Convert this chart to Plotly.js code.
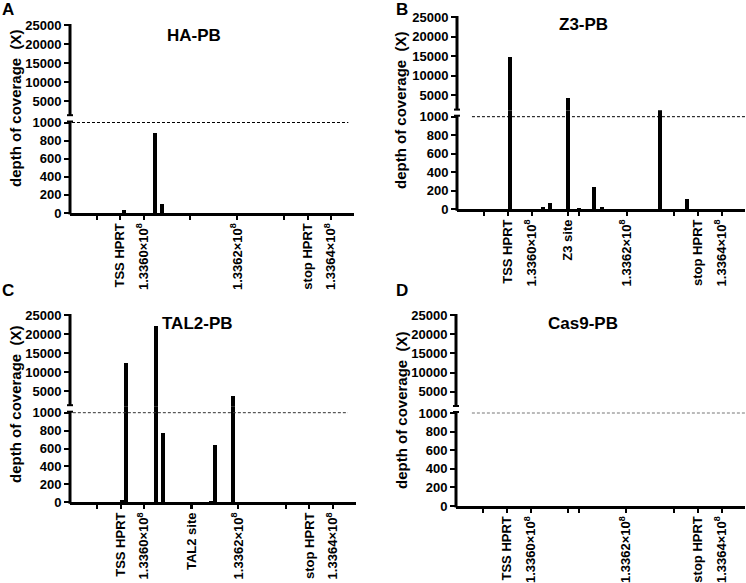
<!DOCTYPE html>
<html>
<head>
<meta charset="utf-8">
<script src="https://cdn.plot.ly/plotly-3.0.1.min.js"></script>
<style>html,body{margin:0;padding:0;background:#fff;}#chart{width:746px;height:583px;}</style>
</head>
<body>
<div id="chart"></div>
<script>
// ---- data (genomic position on chrX, depth of coverage) ----
const haPos   = [133595900, 133602350, 133603850];
const haDepth = [35, 880, 100];

const z3Pos   = [133595450, 133602380, 133603850, 133607700, 133609950, 133613100, 133614850, 133627100, 133632600];
const z3Depth = [14700, 22, 68, 4300, 15, 237, 25, 1200, 114];

const tal2Pos   = [133595400, 133596200, 133602480, 133604100, 133614200, 133615050, 133618930, 133627070];
const tal2Depth = [30, 12400, 22000, 777, 10, 640, 3700, 5];

const cas9Pos   = [];
const cas9Depth = [];

const panelNames   = ["HA-PB", "Z3-PB", "TAL2-PB", "Cas9-PB"];
const panelLetters = ["A", "B", "C", "D"];

// x ticks
const minorTicks = [133590000, 133610000, 133630000];
const majorTicks = [133600000, 133620000, 133640000];
const majorLabels = ["1.3360×10<sup>8</sup>", "1.3362×10<sup>8</sup>", "1.3364×10<sup>8</sup>"];
const tssHPRT = 133595000;
const stopHPRT = 133635000;
const z3Site = 133607700;
const tal2Site = 133610100;

// y ticks
const lowerTicks = [0, 200, 400, 600, 800, 1000];
const upperTicks = [5000, 10000, 15000, 20000, 25000];
const breakValue = 1000;
const yTitle = "depth of coverage  (X)";

// ---- layout helpers ----
const W = 746, H = 583;
const FONT = "Liberation Sans, Arial, sans-serif";
const px = v => v / W;
const py = v => 1 - v / H;
const B = t => t === "" ? "" : "<b>" + t + "</b>";

// pixel geometry of each panel: x [left,right], lower y [top,bottom], upper y [top,bottom]
const geo = [
  {x:[70,354], lo:[122.5,213], up:[25,116.2], dash:[0.007,0.98], dashColor:"#000", title:[194,36], letter:[8,9], ytitle:[15,108]},
  {x:[457,745], lo:[116.7,209.3], up:[17,110.6], dash:[0.052,1.0], dashColor:"#000", title:[583,25], letter:[402,9], ytitle:[401,110]},
  {x:[70,356], lo:[412.7,502.3], up:[315,406.2], dash:[0.01,0.972], dashColor:"#333", title:[197,323], letter:[8,291], ytitle:[15,404]},
  {x:[456,745], lo:[413,506], up:[315,407], dash:[0.055,1.0], dashColor:"#777", title:[583,323], letter:[402,291], ytitle:[401,410]}
];

const series = [
  {pos: haPos, depth: haDepth, sites: [], siteLabels: []},
  {pos: z3Pos, depth: z3Depth, sites: [z3Site], siteLabels: ["Z3 site"]},
  {pos: tal2Pos, depth: tal2Depth, sites: [tal2Site], siteLabels: ["TAL2 site"]},
  {pos: cas9Pos, depth: cas9Depth, sites: [z3Site], siteLabels: [""]}
];

const xRange = [133584300, 133644900];
const tickFont = {family: FONT, size: 13, color: "#000", weight: "bold"};

const data = [];
const layout = {
  width: W, height: H,
  margin: {l:0, r:0, t:0, b:0},
  paper_bgcolor: "#fff", plot_bgcolor: "rgba(0,0,0,0)",
  showlegend: false, bargap: 0,
  font: {family: FONT, color: "#000"},
  annotations: [], shapes: []
};

series.forEach((s, i) => {
  const g = geo[i];
  const xn = i + 1;
  const xid = xn === 1 ? "x" : "x" + xn;
  const yLoN = 2 * i + 1, yUpN = 2 * i + 2;
  const yLo = yLoN === 1 ? "y" : "y" + yLoN;
  const yUp = "y" + yUpN;
  const xKey = xn === 1 ? "xaxis" : "xaxis" + xn;
  const yLoKey = yLoN === 1 ? "yaxis" : "yaxis" + yLoN;
  const yUpKey = "yaxis" + yUpN;

  // x ticks
  const tv = [], tt = [];
  minorTicks.forEach(v => { tv.push(v); tt.push(""); });
  majorTicks.forEach((v, k) => { tv.push(v); tt.push(B(majorLabels[k])); });
  tv.push(tssHPRT); tt.push(B("TSS HPRT"));
  tv.push(stopHPRT); tt.push(B("stop HPRT"));
  s.sites.forEach((v, k) => { tv.push(v); tt.push(B(s.siteLabels[k])); });

  const bar = (ya) => ({
    type: "bar", x: s.pos, y: s.depth, xaxis: xid, yaxis: ya,
    width: 850, marker: {color: "#000", line: {width: 0}}, hoverinfo: "x+y"
  });
  data.push(bar(yLo));
  data.push(bar(yUp));
  data.push({type: "scatter", x: [xRange[0]], y: [0], xaxis: xid, yaxis: yLo, mode: "markers", marker: {opacity: 0}, hoverinfo: "skip"});
  data.push({type: "scatter", x: [xRange[0]], y: [breakValue], xaxis: xid, yaxis: yUp, mode: "markers", marker: {opacity: 0}, hoverinfo: "skip"});

  // lower segment extends up to the bottom of the upper segment so bars bridge the gap
  const loTopVal = breakValue * (g.lo[1] - g.up[1]) / (g.lo[1] - g.lo[0]);

  layout[xKey] = {
    domain: [px(g.x[0]), px(g.x[1])], range: xRange, anchor: yLo,
    showline: true, linewidth: 3, linecolor: "#000", mirror: false,
    showgrid: false, zeroline: false,
    ticks: "outside", ticklen: 4, tickwidth: 2, tickcolor: "#000",
    tickmode: "array", tickvals: tv, ticktext: tt, tickangle: -90,
    ticklabelstandoff: -2,
    tickfont: tickFont, fixedrange: true
  };
  layout[yLoKey] = {
    domain: [py(g.lo[1]), py(g.up[1])], range: [0, loTopVal], anchor: xid,
    showline: false, showgrid: false, zeroline: false,
    ticks: "outside", ticklen: 5, tickwidth: 2, tickcolor: "#000",
    tickmode: "array", tickvals: lowerTicks, ticktext: lowerTicks.map(v => B(String(v))),
    tickfont: tickFont, fixedrange: true
  };
  layout[yUpKey] = {
    domain: [py(g.up[1]), py(g.up[0])], range: [breakValue, 25000], anchor: xid,
    showline: false, showgrid: false, zeroline: false,
    ticks: "outside", ticklen: 5, tickwidth: 2, tickcolor: "#000",
    tickmode: "array", tickvals: upperTicks, ticktext: upperTicks.map(v => B(String(v))),
    tickfont: tickFont, fixedrange: true
  };

  // y-axis line segments (broken)
  layout.shapes.push({type: "line", xref: "paper", yref: "paper",
    x0: px(g.x[0]), x1: px(g.x[0]), y0: py(g.lo[1] + 1.5), y1: py(g.lo[0] - 1.5),
    line: {color: "#000", width: 3}});
  layout.shapes.push({type: "line", xref: "paper", yref: "paper",
    x0: px(g.x[0]), x1: px(g.x[0]), y0: py(g.up[1] - 0.5), y1: py(g.up[0] - 1),
    line: {color: "#000", width: 3}});
  // axis break tabs
  layout.shapes.push({type: "line", xref: "paper", yref: "paper",
    x0: px(g.x[0] - 3), x1: px(g.x[0] + 3), y0: py(g.up[1] - 1), y1: py(g.up[1] - 1),
    line: {color: "#000", width: 2}});
  layout.shapes.push({type: "line", xref: "paper", yref: "paper",
    x0: px(g.x[0] - 3), x1: px(g.x[0] + 3), y0: py(g.lo[0] - 1), y1: py(g.lo[0] - 1),
    line: {color: "#000", width: 2}});

  // dashed threshold line at the break value
  layout.shapes.push({
    type: "line", xref: xid + " domain", yref: yLo,
    x0: g.dash[0], x1: g.dash[1], y0: breakValue, y1: breakValue,
    line: {color: g.dashColor, width: 1, dash: "3px,2px"}
  });

  layout.annotations.push({
    text: "<b>" + panelNames[i] + "</b>", xref: "paper", yref: "paper",
    x: px(g.title[0]), y: py(g.title[1]), xanchor: "center", yanchor: "middle",
    showarrow: false, font: {family: FONT, size: 17, color: "#000"}
  });
  layout.annotations.push({
    text: "<b>" + panelLetters[i] + "</b>", xref: "paper", yref: "paper",
    x: px(g.letter[0]), y: py(g.letter[1]), xanchor: "center", yanchor: "middle",
    showarrow: false, font: {family: FONT, size: 17, color: "#000"}
  });
  layout.annotations.push({
    text: "<b>" + yTitle + "</b>", xref: "paper", yref: "paper", textangle: -90,
    x: px(g.ytitle[0]), y: py(g.ytitle[1]), xanchor: "center", yanchor: "middle",
    showarrow: false, font: {family: FONT, size: 15, color: "#000"}
  });
});

Plotly.newPlot("chart", data, layout, {displayModeBar: false, staticPlot: true});
</script>
</body>
</html>
